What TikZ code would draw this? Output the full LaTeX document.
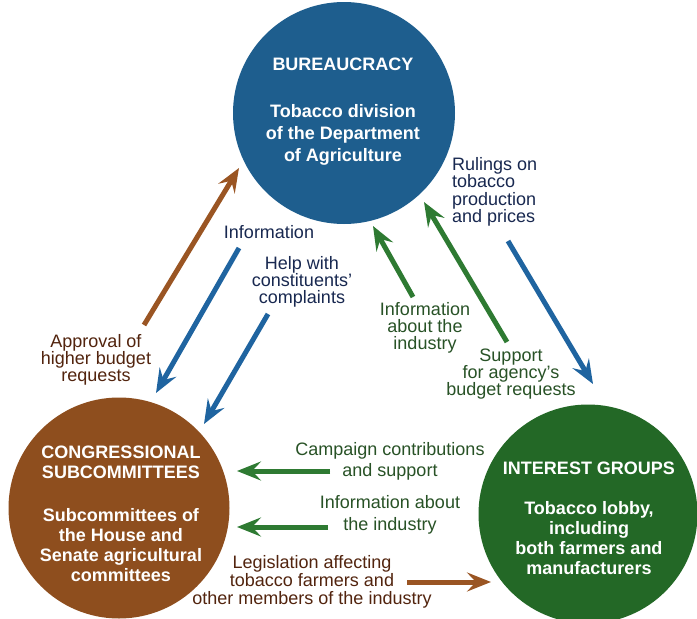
\documentclass[tikz,border=0pt]{standalone}
\usepackage{fontspec}
\setmainfont{Liberation Sans}
\usetikzlibrary{arrows.meta}
\definecolor{bureauBlue}{HTML}{1E5E8E}
\definecolor{flowBlue}{HTML}{1F64A0}
\definecolor{congBrown}{HTML}{8E4E1E}
\definecolor{flowBrown}{HTML}{9A5523}
\definecolor{groupGreen}{HTML}{236826}
\definecolor{flowGreen}{HTML}{2E7A32}
\definecolor{navyText}{HTML}{182850}
\definecolor{brownText}{HTML}{52240E}
\definecolor{greenText}{HTML}{285226}
\begin{document}
\begin{tikzpicture}[x=1pt,y=-1pt,
  circ/.style={circle, draw=none, inner sep=0pt, minimum size=#1},
  ctext/.style={text=white, align=center, inner sep=0pt, font=\bfseries\fontsize{18}{20}\selectfont},
  lbl/.style={align=center, inner sep=0pt, font=\fontsize{18}{17}\selectfont},
  flow/.style={line width=5pt, -{Stealth[length=24pt,width=19pt,inset=9pt]}}]
\useasboundingbox (0,0) rectangle (697,619);
\fill[white] (0,0) rectangle (697,619);
% circles
\node[circ=222pt, fill=bureauBlue] (bur) at (344,113) {};
\node[circ=221pt, fill=congBrown] (cong) at (119,508) {};
\node[circ=219pt, fill=groupGreen] (grp) at (588,514) {};
% circle texts
\node[ctext, font=\bfseries\fontsize{18}{22}\selectfont] (burtext) at (343,112)
  {BUREAUCRACY\\[25pt]Tobacco division\\of the Department\\of Agriculture};
\node[ctext] (congtext) at (121,514)
  {CONGRESSIONAL\\SUBCOMMITTEES\\[23pt]Subcommittees of\\the House and\\Senate agricultural\\committees};
\node[ctext] (grptext) at (589,518)
  {INTEREST GROUPS\\[20pt]Tobacco lobby,\\including\\both farmers and\\manufacturers};
% labels
\node[lbl, text=navyText] (linfo) at (269,232) {Information};
\node[lbl, text=navyText] (lhelp) at (302,282) {Help with\\constituents'\\complaints};
\node[lbl, text=brownText] (lappr) at (96,360) {Approval of\\higher budget\\requests};
\node[lbl, text=navyText, align=left, anchor=west, font=\fontsize{18}{17.5}\selectfont] (lrul) at (452,192) {Rulings on\\tobacco\\production\\and prices};
\node[lbl, text=greenText] (linfoab) at (425,328) {Information\\about the\\industry};
\node[lbl, text=greenText] (lsupp) at (511,374) {Support\\for agency's\\budget requests};
\node[lbl, text=greenText, font=\fontsize{18}{21}\selectfont] (lcamp) at (390,461) {Campaign contributions\\and support};
\node[lbl, text=greenText, font=\fontsize{18}{22}\selectfont] (linfoind) at (390,515) {Information about\\the industry};
\node[lbl, text=brownText, font=\fontsize{18}{18}\selectfont] (lleg) at (312,582) {Legislation affecting\\tobacco farmers and\\other members of the industry};
% arrow end points
\coordinate (a1s) at (144,325); \coordinate (a1e) at (239,168);
\coordinate (a2s) at (239,248); \coordinate (a2e) at (156,393);
\coordinate (a3s) at (268,314); \coordinate (a3e) at (204,424);
\coordinate (a4s) at (413,297); \coordinate (a4e) at (373,226);
\coordinate (a5s) at (507,342); \coordinate (a5e) at (424,202);
\coordinate (a6s) at (508,241); \coordinate (a6e) at (593,384);
\coordinate (a7s) at (330,471); \coordinate (a7e) at (237,471);
\coordinate (a8s) at (328,527); \coordinate (a8e) at (237,527);
\coordinate (a9s) at (407,582); \coordinate (a9e) at (491,582);
% arrows
\draw[flow, draw=flowBrown, fill=flowBrown] (a1s) -- (a1e);
\draw[flow, draw=flowBlue, fill=flowBlue] (a2s) -- (a2e);
\draw[flow, draw=flowBlue, fill=flowBlue] (a3s) -- (a3e);
\draw[flow, draw=flowGreen, fill=flowGreen] (a4s) -- (a4e);
\draw[flow, draw=flowGreen, fill=flowGreen] (a5s) -- (a5e);
\draw[flow, draw=flowBlue, fill=flowBlue] (a6s) -- (a6e);
\draw[flow, draw=flowGreen, fill=flowGreen] (a7s) -- (a7e);
\draw[flow, draw=flowGreen, fill=flowGreen] (a8s) -- (a8e);
\draw[flow, draw=flowBrown, fill=flowBrown] (a9s) -- (a9e);
\end{tikzpicture}
\end{document}
